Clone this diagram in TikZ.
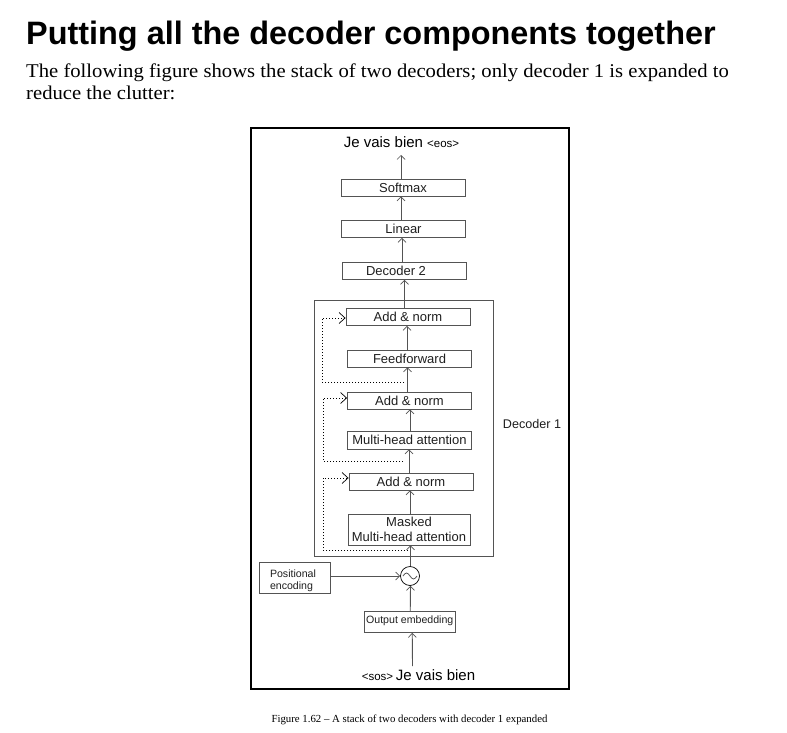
\documentclass[tikz,border=0pt]{standalone}
\usepackage{fontspec}
\setmainfont{Liberation Serif}
\newfontfamily\diafont{Liberation Sans}
\newfontfamily\headfont{Liberation Sans}
\newfontfamily\bodyfont[FakeStretch=1.06]{Liberation Serif}
\usetikzlibrary{arrows.meta}
\definecolor{linegrey}{gray}{0.33}
\tikzset{
  x=1pt,y=-1pt,
  block/.style={draw=linegrey,line width=0.9pt,inner sep=0pt,font=\diafont\fontsize{13}{15}\selectfont,text=black!88,align=center},
  blocksmall/.style={block,font=\diafont\fontsize{10.6}{12}\selectfont},
  flowarrow/.style={draw=linegrey,line width=0.9pt,-{Straight Barb[length=4pt,width=8pt,line width=0.7pt]}},
  skiparrow/.style={draw=black,line width=1pt,dotted,-{Straight Barb[length=6pt,width=11pt,line width=0.7pt,sep=0pt]}},
  plainlabel/.style={inner sep=0pt,font=\diafont\fontsize{12.6}{15}\selectfont,text=black!88},
}
\newcommand{\boxat}[7][block]{\node[#1,minimum width=#4pt-#3pt,minimum height=#6pt-#5pt] (#2) at ({(#3+#4)/2},{(#5+#6)/2}) {#7};}
\begin{document}
\begin{tikzpicture}
\useasboundingbox (0,0) rectangle (787,733);
\fill[white] (0,0) rectangle (787,733);
% page text
\node[anchor=base west,inner sep=0pt,font=\headfont\bfseries\fontsize{32.4}{36}\selectfont] (title) at (26,45) {Putting all the decoder components together};
\node[anchor=base west,inner sep=0pt,font=\bodyfont\fontsize{19.5}{21}\selectfont] (bodya) at (26,78) {The following figure shows the stack of two decoders; only decoder 1 is expanded to};
\node[anchor=base west,inner sep=0pt,font=\bodyfont\fontsize{19.5}{21}\selectfont] (bodyb) at (26,100) {reduce the clutter:};
\node[anchor=base,inner sep=0pt,font=\fontsize{10.8}{12}\selectfont] (caption) at (409.5,722) {Figure 1.62 -- A stack of two decoders with decoder 1 expanded};
% frames
\node[draw=black,line width=2pt,minimum width=318pt,minimum height=561pt,inner sep=0pt] (outer) at (410,408.5) {};
\node[draw=linegrey,line width=0.8pt,minimum width=179pt,minimum height=256pt,inner sep=0pt] (dec1) at (403.5,428) {};
% labels
\node[anchor=base,inner sep=0pt] (eos) at (401.5,147) {\diafont\fontsize{15}{18}\selectfont Je vais bien {\fontsize{11.5}{12}\selectfont <eos>}};
\node[anchor=base,inner sep=0pt] (sos) at (418.5,680) {\diafont{\fontsize{11.5}{12}\selectfont <sos>} \fontsize{15}{18}\selectfont Je vais bien};
\node[plainlabel,anchor=center] (dec1label) at (532,424) {Decoder 1};
% blocks
\boxat{softmax}{341}{465}{179}{196}{Softmax}
\boxat{linear}{341.5}{465.5}{220.5}{237.5}{Linear}
\boxat{dectwo}{342}{466}{262.5}{279.5}{\hspace*{-16pt}Decoder 2}
\boxat{addone}{346}{470}{308.5}{325.5}{Add \& norm}
\boxat{feed}{347.5}{471.5}{350}{367}{Feedforward}
\boxat{addtwo}{347.5}{471.5}{392}{409}{Add \& norm}
\boxat{mha}{347.5}{471.5}{431.5}{449}{Multi-head attention}
\boxat{addthree}{349}{473}{473}{490}{Add \& norm}
\boxat{masked}{348}{470}{514}{545}{Masked\\[0pt]Multi-head attention}
\node[blocksmall,draw=linegrey,minimum width=71pt,minimum height=31pt,text width=49pt,align=left,xshift=0.5pt] (pos) at (294,578) {\raisebox{-5pt}[0pt][0pt]{Positional}\\\raisebox{-5pt}[0pt][0pt]{encoding}};
\boxat[blocksmall]{embed}{364.5}{455}{611.5}{632.5}{\raisebox{-1.5pt}[0pt][0pt]{Output embedding}}
% adder
\node[draw=black,line width=0.7pt,circle,minimum size=19pt,inner sep=0pt] (adder) at (410,576) {};
\draw[line width=0.8pt,linegrey] ([xshift=-7pt]adder.center) sin ([xshift=-3.5pt,yshift=3pt]adder.center) cos (adder.center) sin ([xshift=3.5pt,yshift=-3pt]adder.center) cos ([xshift=7pt]adder.center);
% flow
\coordinate (eostip) at (401,155);
\coordinate (sosstart) at (412.5,666);
\draw[flowarrow] ([xshift=-2pt]softmax.north) -- (eostip);
\draw[flowarrow] ([xshift=-2.5pt]linear.north) -- ([xshift=-2pt]softmax.south);
\draw[flowarrow] ([xshift=-2pt]dectwo.north) -- ([xshift=-1.5pt]linear.south);
\draw[flowarrow] ([xshift=-3.5pt]addone.north) -- ([xshift=0.5pt]dectwo.south);
\draw[flowarrow] ([xshift=-2.5pt]feed.north) -- ([xshift=-1pt]addone.south);
\draw[flowarrow] ([xshift=-2pt]addtwo.north) -- ([xshift=-2pt]feed.south);
\draw[flowarrow] ([xshift=0.5pt]mha.north) -- ([xshift=0.5pt]addtwo.south);
\draw[flowarrow] ([xshift=-2pt]addthree.north) -- ([xshift=-0.5pt]mha.south);
\draw[flowarrow] ([xshift=1pt]masked.north) -- ([xshift=-1pt]addthree.south);
\draw[flowarrow] ([xshift=0.5pt]adder.north) -- ([xshift=1.5pt]masked.south);
\draw[flowarrow] ([xshift=0.5pt]embed.north) -- ([xshift=0.5pt]adder.south);
\draw[flowarrow] (pos.east |- adder.west) -- (adder.west);
\draw[flowarrow] (sosstart) -- ([xshift=2.5pt]embed.south);
% skip connections
\coordinate (skipaout) at (404,382);
\coordinate (skipacorner) at (322,382);
\coordinate (skipbout) at (403,461);
\coordinate (skipbcorner) at (323,461);
\coordinate (skipcout) at (408,550);
\coordinate (skipccorner) at (323,550);
\draw[skiparrow] (skipaout) -- (skipacorner) |- ([yshift=-1pt]addone.west);
\draw[skiparrow] (skipbout) -- (skipbcorner) |- ([yshift=2.5pt]addtwo.west);
\draw[skiparrow] (skipcout) -- (skipccorner) |- ([yshift=3.5pt]addthree.west);
\end{tikzpicture}
\end{document}
